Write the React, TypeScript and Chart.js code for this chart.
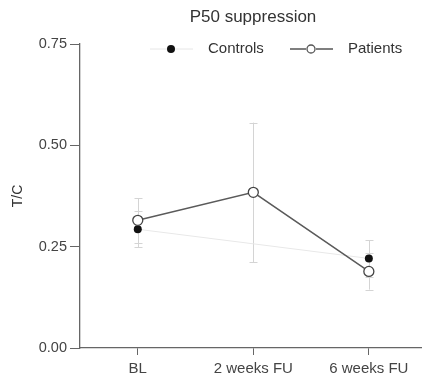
import React, { useEffect, useRef } from "react";
import { Chart, registerables } from "chart.js";

Chart.register(...registerables);

const categories = ["BL", "2 weeks FU", "6 weeks FU"];
const controlsMean: (number | null)[] = [0.293, null, 0.221];
const controlsErr: (number | null)[] = [0.045, null, 0.045];
const patientsMean: number[] = [0.315, 0.384, 0.189];
const patientsErr: number[] = [0.055, 0.172, 0.045];
const yTicks = [0, 0.25, 0.5, 0.75];

const FONT = "'Liberation Sans', Arial, sans-serif";

const errorBarPlugin = {
  id: "errorBars",
  beforeDatasetsDraw(chart: any) {
    const { ctx, scales } = chart;
    const x = scales.x;
    const y = scales.y;
    ctx.save();
    ctx.strokeStyle = "#d4d4d4";
    ctx.lineWidth = 1;
    const draw = (means: (number | null)[], errs: (number | null)[]) => {
      means.forEach((m, i) => {
        const e = errs[i];
        if (m == null || e == null) return;
        const px = Math.round(x.getPixelForValue(i)) + 0.5;
        const top = y.getPixelForValue(m + e);
        const bot = y.getPixelForValue(m - e);
        ctx.beginPath();
        ctx.moveTo(px, top);
        ctx.lineTo(px, bot);
        ctx.moveTo(px - 4, Math.round(top) + 0.5);
        ctx.lineTo(px + 4, Math.round(top) + 0.5);
        ctx.moveTo(px - 4, Math.round(bot) + 0.5);
        ctx.lineTo(px + 4, Math.round(bot) + 0.5);
        ctx.stroke();
      });
    };
    draw(controlsMean, controlsErr);
    draw(patientsMean, patientsErr);
    ctx.restore();
  },
  afterDraw(chart: any) {
    const { ctx } = chart;
    ctx.save();
    // Title
    ctx.fillStyle = "#333";
    ctx.font = `17px ${FONT}`;
    ctx.textAlign = "center";
    ctx.textBaseline = "middle";
    ctx.fillText("P50 suppression", 253, 17);
    // Legend
    const ly = 49;
    ctx.font = `15px ${FONT}`;
    ctx.textAlign = "left";
    // Controls
    ctx.strokeStyle = "#e6e6e6";
    ctx.lineWidth = 1;
    ctx.beginPath();
    ctx.moveTo(150, ly);
    ctx.lineTo(193, ly);
    ctx.stroke();
    ctx.fillStyle = "#111";
    ctx.beginPath();
    ctx.arc(171, ly, 4, 0, Math.PI * 2);
    ctx.fill();
    ctx.fillStyle = "#333";
    ctx.fillText("Controls", 208, ly);
    // Patients
    ctx.strokeStyle = "#555";
    ctx.lineWidth = 1.3;
    ctx.beginPath();
    ctx.moveTo(290, ly);
    ctx.lineTo(306, ly);
    ctx.moveTo(316, ly);
    ctx.lineTo(333, ly);
    ctx.stroke();
    ctx.beginPath();
    ctx.arc(311, ly, 4, 0, Math.PI * 2);
    ctx.fillStyle = "#fff";
    ctx.fill();
    ctx.stroke();
    ctx.fillStyle = "#333";
    ctx.fillText("Patients", 348, ly);
    ctx.restore();
  },
};

export default function App() {
  const ref = useRef<HTMLCanvasElement | null>(null);
  useEffect(() => {
    if (!ref.current) return;
    const chart = new Chart(ref.current, {
      type: "line",
      data: {
        datasets: [
          {
            label: "Controls",
            data: controlsMean.map((v, i) => ({ x: i, y: v })) as any,
            borderColor: "#e8e8e8",
            borderWidth: 1,
            pointBackgroundColor: "#111",
            pointBorderColor: "#111",
            pointRadius: 4,
            pointBorderWidth: 0,
            spanGaps: true,
            order: 2,
          },
          {
            label: "Patients",
            data: patientsMean.map((v, i) => ({ x: i, y: v })),
            borderColor: "#5a5a5a",
            borderWidth: 1.5,
            pointBackgroundColor: "#fff",
            pointBorderColor: "#444",
            pointBorderWidth: 1.3,
            pointRadius: 5,
            order: 1,
          },
        ],
      },
      options: {
        animation: false,
        responsive: false,
        maintainAspectRatio: false,
        layout: { autoPadding: false, padding: { top: 44, right: 0, left: 0, bottom: 0 } },
        plugins: {
          legend: { display: false },
          title: { display: false },
          tooltip: { enabled: false },
        },
        scales: {
          x: {
            type: "linear",
            min: -0.5,
            max: 2.46,
            afterBuildTicks(scale: any) {
              scale.ticks = categories.map((_, i) => ({ value: i }));
            },
            afterFit(scale: any) {
              scale.height = 27;
              scale.paddingLeft = 0;
              scale.paddingRight = 0;
            },
            ticks: {
              callback: (v: any) => categories[v as number] ?? "",
              color: "#444",
              font: { family: FONT, size: 15 },
              padding: 5,
              maxRotation: 0,
              autoSkip: false,
            },
            grid: {
              display: true,
              drawOnChartArea: false,
              drawTicks: true,
              tickLength: 7,
              color: "#666",
            },
            border: { display: true, color: "#666", width: 1.3 },
          },
          y: {
            min: 0,
            max: 0.75,
            afterBuildTicks(scale: any) {
              scale.ticks = yTicks.map((v) => ({ value: v }));
            },
            afterFit(scale: any) {
              scale.width = 80;
            },
            title: {
              display: true,
              text: "T/C",
              color: "#333",
              font: { family: FONT, size: 14 },
              padding: { top: 10, bottom: 0 },
            },
            ticks: {
              callback: (v: any) => Number(v).toFixed(2),
              color: "#444",
              font: { family: FONT, size: 14.5 },
              padding: 3,
            },
            grid: {
              display: true,
              drawOnChartArea: false,
              drawTicks: true,
              tickLength: 10,
              color: "#666",
            },
            border: { display: true, color: "#666", width: 1.3 },
          },
        },
      },
      plugins: [errorBarPlugin],
    });
    return () => chart.destroy();
  }, []);
  return (
    <div style={{ position: "fixed", left: 0, top: 0, width: 422, height: 375, background: "#fff" }}>
      <canvas ref={ref} width={422} height={375} style={{ width: 422, height: 375, display: "block" }} />
    </div>
  );
}
